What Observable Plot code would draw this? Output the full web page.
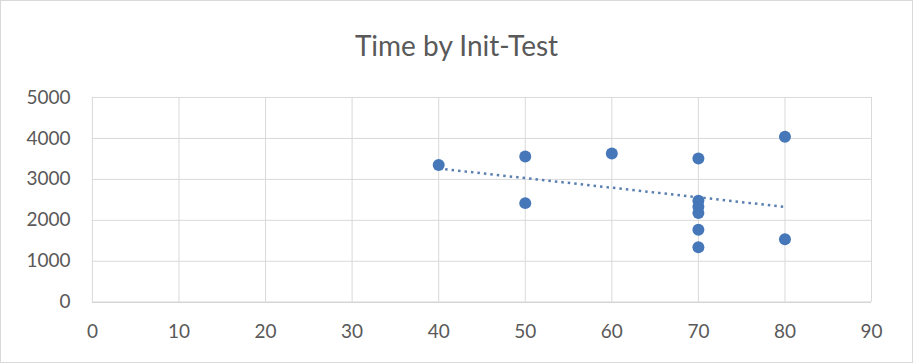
<!DOCTYPE html>
<html>
<head>
<meta charset="utf-8">
<script src="https://cdn.jsdelivr.net/npm/d3@7"></script>
<script src="https://cdn.jsdelivr.net/npm/@observablehq/plot@0.6"></script>
<style>
  html, body { margin: 0; padding: 0; background: #fff; }
  #wrap { position: relative; width: 911px; height: 361px; border: 1px solid #d9d9d9; overflow: hidden; font-family: Lato, "Open Sans", sans-serif; }
  #title { position: absolute; left: 0; top: 0; width: 911px; height: 69px; text-align: center; line-height: 88px; font-size: 28px; color: #595959; }
  #chart { position: absolute; left: -1px; top: 69px; }
</style>
</head>
<body>
<div id="wrap">
  <div id="title">Time by Init-Test</div>
  <div id="chart"></div>
</div>
<script>
const initTest = [40, 50, 50, 60, 70, 70, 70, 70, 70, 70, 80, 80];
const time     = [3350, 3560, 2420, 3630, 3510, 2480, 2330, 2180, 1770, 1340, 4040, 1540];
const xTicks = [0, 10, 20, 30, 40, 50, 60, 70, 80, 90];
const yTicks = [0, 1000, 2000, 3000, 4000, 5000];

const data = initTest.map((x, i) => ({x, y: time[i]}));
const blue = "#4677b8";

const plot = Plot.plot({
  width: 913,
  height: 294,
  marginTop: 27,
  marginBottom: 62,
  marginLeft: 92,
  marginRight: 41,
  style: { fontFamily: "Lato, 'Open Sans', sans-serif", fontSize: "19px", color: "#595959", background: "transparent" },
  x: { domain: [0, 90], ticks: xTicks, label: null },
  y: { domain: [0, 5000], ticks: yTicks, label: null },
  marks: [
    Plot.gridX(xTicks, { stroke: "#d9d9d9", strokeOpacity: 1, strokeWidth: 1 }),
    Plot.gridY(yTicks, { stroke: "#d9d9d9", strokeOpacity: 1, strokeWidth: 1 }),
    Plot.ruleY([0], { stroke: "#d0d0d0", strokeWidth: 1 }),
    Plot.axisX(xTicks, { tickSize: 0, tickPadding: 22, fontSize: 19, fill: "#595959" }),
    Plot.axisY(yTicks, { tickSize: 0, tickPadding: 22, fontSize: 19, fill: "#595959", tickFormat: d3.format("d") }),
    Plot.linearRegressionY(data, { x: "x", y: "y", ci: 0, stroke: "#5a7fb0", strokeWidth: 2.5, strokeDasharray: "2.5,4", strokeLinecap: "butt" }),
    Plot.dot(data, { x: "x", y: "y", r: 6, fill: blue, stroke: "none" })
  ]
});
document.getElementById("chart").appendChild(plot);
</script>
</body>
</html>
